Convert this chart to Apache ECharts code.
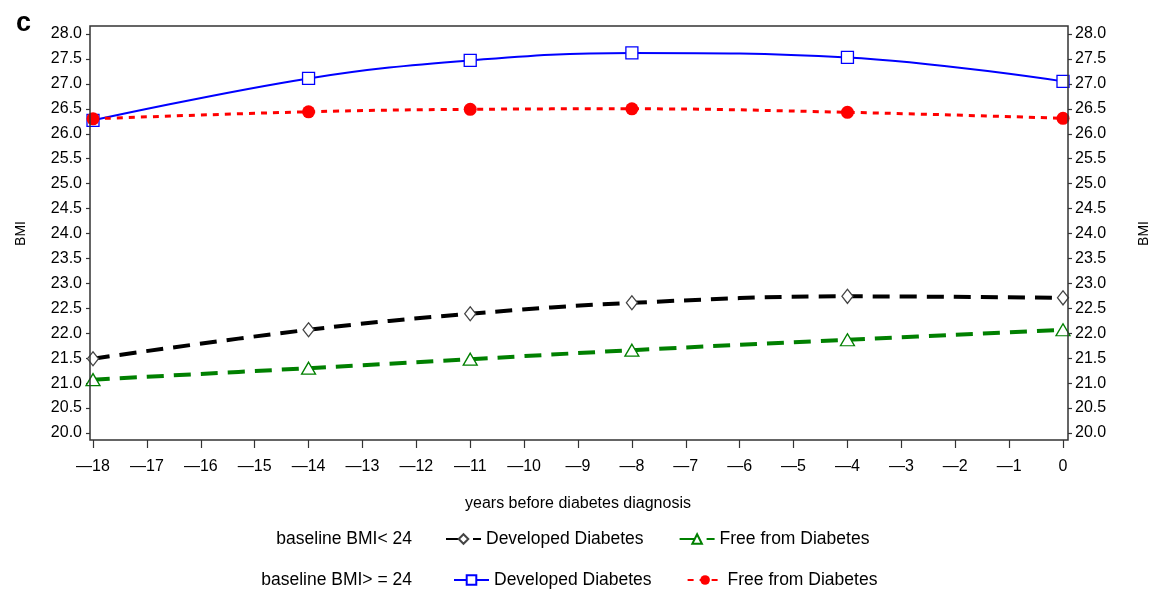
<!DOCTYPE html>
<html>
<head>
<meta charset="utf-8">
<script src="https://cdn.jsdelivr.net/npm/echarts@6/dist/echarts.min.js"></script>
<style>
  html, body { margin: 0; padding: 0; background: #fff; }
  #chart { width: 1156px; height: 592px; }
</style>
</head>
<body>
<div id="chart"></div>
<script>
// Years before diagnosis at which mean BMI was estimated
const years = [-18, -14, -11, -8, -4, 0];

// Baseline BMI < 24
const lowDeveloped = [21.49, 22.07, 22.39, 22.61, 22.74, 22.71];
const lowFree      = [21.07, 21.30, 21.48, 21.66, 21.87, 22.07];

// Baseline BMI >= 24
const highDeveloped = [26.27, 27.11, 27.47, 27.62, 27.53, 27.05];
const highFree      = [26.30, 26.44, 26.49, 26.50, 26.43, 26.31];

const groupLabels = ['baseline BMI< 24', 'baseline BMI> = 24'];
const seriesLabels = {
  lowDev: 'Developed Diabetes',
  lowFree: 'Free from Diabetes',
  highDev: 'Developed Diabetes',
  highFree: 'Free from Diabetes'
};

const FONT = '"Liberation Sans", Arial, Helvetica, sans-serif';

function pairs(vals) {
  return years.map((y, i) => [y, vals[i]]);
}

function yAxisCfg(position, offset, margin, nameGap) {
  return {
    type: 'value',
    position: position,
    offset: offset,
    min: 20,
    max: 28,
    interval: 0.5,
    name: 'BMI',
    nameLocation: 'middle',
    nameGap: nameGap,
    nameRotate: 90,
    nameTextStyle: { fontFamily: FONT, fontSize: 14, color: '#000' },
    axisLine: { show: false, onZero: false },
    axisTick: { show: true, inside: false, length: 4, lineStyle: { color: '#333', width: 1.2 } },
    axisLabel: {
      margin: margin,
      fontFamily: FONT,
      fontSize: 16,
      color: '#000',
      formatter: v => v.toFixed(1)
    },
    splitLine: { show: false }
  };
}

const chart = echarts.init(document.getElementById('chart'), null, { renderer: 'canvas' });

const option = {
  animation: false,
  backgroundColor: '#fff',
  title: {
    text: 'c',
    left: 11,
    top: 5,
    textStyle: { fontFamily: FONT, fontSize: 27, fontWeight: 'bold', color: '#000' }
  },
  grid: {
    left: 93, right: 93, top: 34, bottom: 159,
    containLabel: false,
    outerBoundsMode: 'none'
  },
  xAxis: {
    type: 'value',
    min: -18,
    max: 0,
    interval: 1,
    offset: 7,
    name: 'years before diabetes diagnosis',
    nameLocation: 'middle',
    nameGap: 56,
    nameTextStyle: { fontFamily: FONT, fontSize: 16, color: '#000' },
    axisLine: { show: false, onZero: false },
    axisTick: { show: true, length: 8, lineStyle: { color: '#333', width: 1.2 } },
    axisLabel: {
      margin: 19,
      fontFamily: FONT,
      fontSize: 16,
      color: '#000',
      formatter: v => (v < 0 ? '\u2014' + Math.abs(v) : String(v))
    },
    splitLine: { show: false }
  },
  yAxis: [yAxisCfg('left', 3, 8, 62), yAxisCfg('right', 5, 7, 69)],
  legend: [
    {
      data: ['lowDev', 'lowFree'],
      left: 445,
      top: 530,
      padding: 0,
      itemWidth: 35,
      itemHeight: 12,
      itemGap: 35,
      formatter: n => seriesLabels[n],
      textStyle: { fontFamily: FONT, fontSize: 17.5, color: '#000' }
    },
    {
      data: ['highDev', 'highFree'],
      left: 453,
      top: 571,
      padding: 0,
      itemWidth: 35,
      itemHeight: 12,
      itemGap: 35,
      formatter: n => seriesLabels[n],
      textStyle: { fontFamily: FONT, fontSize: 17.5, color: '#000' }
    }
  ],
  graphic: [
    {
      type: 'rect',
      silent: true,
      shape: { x: 90, y: 26, width: 978, height: 414 },
      style: { fill: 'none', stroke: '#333', lineWidth: 1.5 },
      z: 10
    },
    {
      type: 'text',
      silent: true,
      x: 412, y: 539,
      style: {
        text: groupLabels[0], fontFamily: FONT, fontSize: 17.5, fill: '#000',
        align: 'right', verticalAlign: 'middle'
      }
    },
    {
      type: 'text',
      silent: true,
      x: 412, y: 580,
      style: {
        text: groupLabels[1], fontFamily: FONT, fontSize: 17.5, fill: '#000',
        align: 'right', verticalAlign: 'middle'
      }
    }
  ],
  series: [
    {
      name: 'lowDev',
      type: 'line',
      data: pairs(lowDeveloped),
      smooth: 0.4,
      symbol: 'diamond',
      symbolSize: [11, 14],
      lineStyle: { color: '#000', width: 4, type: [17, 10] },
      itemStyle: { color: '#fff', borderColor: '#444', borderWidth: 1.3 }
    },
    {
      name: 'lowFree',
      type: 'line',
      data: pairs(lowFree),
      smooth: 0.4,
      symbol: 'triangle',
      symbolSize: [14, 12],
      lineStyle: { color: '#008000', width: 4, type: [17, 10] },
      itemStyle: { color: '#fff', borderColor: '#008000', borderWidth: 1.3 }
    },
    {
      name: 'highDev',
      type: 'line',
      data: pairs(highDeveloped),
      smooth: 0.4,
      symbol: 'rect',
      symbolSize: 12,
      lineStyle: { color: '#0000ff', width: 2 },
      itemStyle: { color: '#fff', borderColor: '#0000ff', borderWidth: 1.3 }
    },
    {
      name: 'highFree',
      type: 'line',
      data: pairs(highFree),
      smooth: 0.4,
      symbol: 'circle',
      symbolSize: 13,
      lineStyle: { color: '#ff0000', width: 3, type: [6, 6] },
      itemStyle: { color: '#ff0000', borderColor: '#ff0000', borderWidth: 0 }
    }
  ]
};

chart.setOption(option);
</script>
</body>
</html>
